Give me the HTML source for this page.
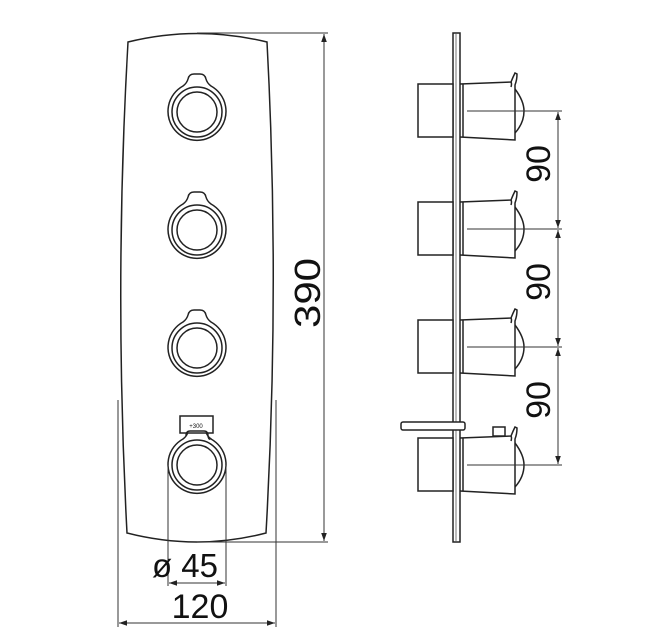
<!DOCTYPE html>
<html><head><style>
html,body{margin:0;padding:0;background:#fff;}
svg{display:block}
text{font-family:"Liberation Sans",sans-serif;fill:#111}
</style></head><body>
<svg width="672" height="639" viewBox="0 0 672 639" xmlns="http://www.w3.org/2000/svg">
<defs>
<marker id="a" viewBox="0 0 10 10" refX="10" refY="5" markerWidth="8" markerHeight="8" orient="auto-start-reverse" markerUnits="userSpaceOnUse"><path d="M0,1.5 L10,5 L0,8.5 z" fill="#222"/></marker>
<g id="knob" fill="none" stroke="#222" stroke-width="1.5">
<path d="M-9,-33 Q-8,-38 -3,-38 L3,-38 Q8,-38 9,-33 Q10,-29 14,-26 A29,29 0 1 1 -14,-26 Q-10,-29 -9,-33 Z"/>
<circle r="25"/>
<circle r="20"/>
</g>
<g id="side" fill="none" stroke="#222" stroke-width="1.5">
<rect x="418" y="-27" width="35" height="53" fill="#fff"/>
<path d="M460,-27 L511,-29 Q513,-34 515,-38 L517,-37 Q517,-31 515,-26 L515,29 L460,26"/>
<path d="M515,-22 Q524,-10 524,0 Q524,12 515,22"/>
<path d="M511,-29 Q512,-27 511,-24" />
<line x1="463" y1="-27" x2="463" y2="26"/>
</g>
</defs>
<g fill="none" stroke="#222" stroke-width="1.5">
<path d="M128,42 Q197,25 267,42 Q280,287 266,533 Q197,551 127,533 Q114,287 128,42 Z"/>
</g>
<use href="#knob" x="197" y="112"/>
<use href="#knob" x="197" y="230"/>
<use href="#knob" x="197" y="348"/>
<use href="#knob" x="197" y="465"/>
<rect x="180" y="416" width="33" height="17" fill="#fff" stroke="#222" stroke-width="1.5"/>
<path d="M186,436 Q186,431 190,431 L204,431 Q208,431 208,436 Q209,441 211,438" fill="none" stroke="#222" stroke-width="1.5"/>
<text x="196" y="428" font-size="6" text-anchor="middle">+300</text>
<g stroke="#333" stroke-width="1" fill="none">
<line x1="197" y1="33" x2="328" y2="33"/>
<line x1="197" y1="542" x2="328" y2="542"/>
<line x1="324" y1="34" x2="324" y2="541" marker-start="url(#a)" marker-end="url(#a)"/>
<line x1="168" y1="465" x2="168" y2="586"/>
<line x1="226" y1="465" x2="226" y2="586"/>
<line x1="169" y1="583" x2="225" y2="583" marker-start="url(#a)" marker-end="url(#a)"/>
<line x1="118" y1="400" x2="118" y2="627"/>
<line x1="276" y1="400" x2="276" y2="627"/>
<line x1="119" y1="623" x2="275" y2="623" marker-start="url(#a)" marker-end="url(#a)"/>
</g>
<text transform="translate(320,293) rotate(-90)" font-size="36" text-anchor="middle" textLength="70" lengthAdjust="spacingAndGlyphs">390</text>
<text x="185" y="577" font-size="33" text-anchor="middle">ø 45</text>
<text x="200" y="618" font-size="34" text-anchor="middle">120</text>
<rect x="453" y="33" width="7" height="509" fill="none" stroke="#222" stroke-width="1.5"/>
<line x1="456" y1="33" x2="456" y2="542" stroke="#555" stroke-width="0.8"/>
<use href="#side" y="111"/>
<use href="#side" y="229"/>
<use href="#side" y="347"/>
<use href="#side" y="465"/>
<rect x="401" y="422" width="64" height="8" rx="2" fill="#fff" stroke="#222" stroke-width="1.5"/>
<rect x="493" y="427" width="12" height="9" fill="#fff" stroke="#222" stroke-width="1.5"/>
<g stroke="#333" stroke-width="1" fill="none">
<line x1="467" y1="111" x2="562" y2="111"/>
<line x1="467" y1="229" x2="562" y2="229"/>
<line x1="467" y1="347" x2="562" y2="347"/>
<line x1="467" y1="465" x2="562" y2="465"/>
<line x1="558" y1="112" x2="558" y2="228" marker-start="url(#a)" marker-end="url(#a)"/>
<line x1="558" y1="230" x2="558" y2="346" marker-start="url(#a)" marker-end="url(#a)"/>
<line x1="558" y1="348" x2="558" y2="464" marker-start="url(#a)" marker-end="url(#a)"/>
</g>
<text transform="translate(550,164) rotate(-90)" font-size="34" text-anchor="middle">90</text>
<text transform="translate(550,282) rotate(-90)" font-size="34" text-anchor="middle">90</text>
<text transform="translate(550,400) rotate(-90)" font-size="34" text-anchor="middle">90</text>
</svg>
</body></html>
